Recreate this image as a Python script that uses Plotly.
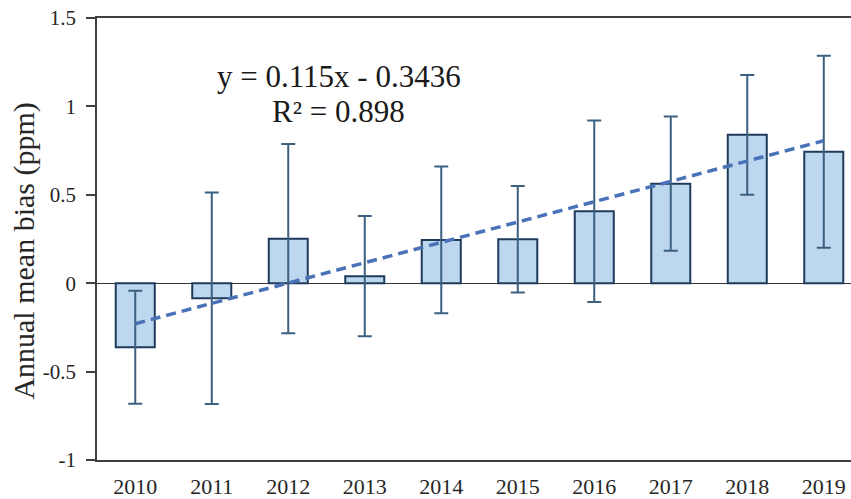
import plotly.graph_objects as go

# 연도별 평균 편향 (막대 + 오차막대)
years = ['2010', '2011', '2012', '2013', '2014', '2015', '2016', '2017', '2018', '2019']
bias = [-0.362, -0.085, 0.252, 0.040, 0.245, 0.249, 0.407, 0.563, 0.839, 0.744]
bias_err = [0.320, 0.598, 0.535, 0.340, 0.415, 0.301, 0.513, 0.380, 0.339, 0.543]

# 선형 추세선 양 끝점
trend_years = ['2010', '2019']
trend_vals = [-0.229, 0.806]

eq_text = 'y = 0.115x - 0.3436'
r2_text = 'R² = 0.898'

serif = 'Liberation Serif, Times New Roman, serif'
axis_col = '#404040'

fig = go.Figure()

fig.add_trace(go.Bar(
    x=years,
    y=bias,
    width=0.51,
    marker=dict(color='#BDD7EE', line=dict(color='#1F3B5C', width=2)),
    error_y=dict(type='data', array=bias_err, visible=True,
                 color='#3C6080', thickness=2, width=7),
    showlegend=False
))

fig.add_trace(go.Scatter(
    x=trend_years,
    y=trend_vals,
    mode='lines',
    line=dict(color='#4A72B8', width=3.5, dash='10px,6px'),
    showlegend=False
))

# 회귀식 텍스트
fig.add_annotation(x=2.66, y=1.17, xref='x', yref='y', text=eq_text, xanchor='center',
                   showarrow=False, font=dict(family=serif, size=31, color='#1a1a1a'))
fig.add_annotation(x=2.66, y=0.972, xref='x', yref='y', text=r2_text, xanchor='center',
                   showarrow=False, font=dict(family=serif, size=31, color='#1a1a1a'))

# y축 제목
fig.add_annotation(x=-0.098, y=0.4717, xref='paper', yref='paper',
                   xanchor='center', yanchor='middle',
                   text='Annual mean bias (ppm)', textangle=-90, showarrow=False,
                   font=dict(family=serif, size=30, color='#262626'))

fig.update_layout(
    width=851, height=499,
    plot_bgcolor='white',
    paper_bgcolor='white',
    margin=dict(l=97, r=0, t=18, b=39, autoexpand=False),
    font=dict(family=serif, color='#262626'),
)

fig.update_xaxes(
    type='category',
    range=[-0.5, 9.356],
    showline=True, linecolor=axis_col, linewidth=1.5, mirror=True,
    ticks='', showgrid=False,
    ticklabelstandoff=6,
    tickfont=dict(family=serif, size=22, color='#262626'),
)
fig.update_yaxes(
    range=[-1, 1.5],
    tickvals=[-1, -0.5, 0, 0.5, 1, 1.5],
    ticktext=['-1', '-0.5', '0', '0.5', '1', '1.5'],
    showline=True, linecolor=axis_col, linewidth=1.5,
    ticks='outside', ticklen=9, tickcolor=axis_col, tickwidth=1.5,
    ticklabelstandoff=6,
    showgrid=False,
    zeroline=True, zerolinecolor='#333333', zerolinewidth=1.3,
    tickfont=dict(family=serif, size=21, color='#262626'),
)

# 브라우저 기본 body 여백 제거, 모드바 숨김
fig.write_html('out.html', config={'displayModeBar': False},
               post_script="document.body.style.margin='0';")
